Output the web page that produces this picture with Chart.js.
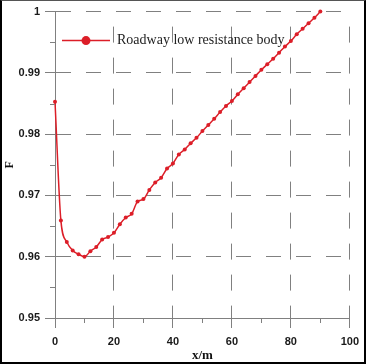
<!DOCTYPE html>
<html>
<head>
<meta charset="utf-8">
<script src="https://cdn.jsdelivr.net/npm/chart.js@4"></script>
<style>
  html, body { margin: 0; padding: 0; background: #fff; }
  #wrap { position: relative; width: 366px; height: 364px; }
  #wrap canvas { position: absolute; left: 0; top: 0; }
  #frame {
    position: absolute; left: 0; top: 0; width: 366px; height: 364px;
    box-sizing: border-box; pointer-events: none;
    border-left: 2px solid #000; border-right: 2px solid #000;
    border-bottom: 2px solid #000; border-top: 1px solid #555;
  }
</style>
</head>
<body>
<div id="wrap">
  <canvas id="chart" width="366" height="364"></canvas>
  <div id="frame"></div>
</div>
<script>
// distance along the roadway (m)
const distance = [0, 2, 4, 6, 8, 10, 12, 14, 16, 18, 20, 22, 24, 26, 28, 30, 32, 34, 36, 38,
  40, 42, 44, 46, 48, 50, 52, 54, 56, 58, 60, 62, 64, 66, 68, 70, 72, 74, 76, 78,
  80, 82, 84, 86, 88, 90];
// F values
const fValues = [0.9853, 0.9659, 0.9624, 0.9610, 0.9604, 0.9600, 0.9609, 0.9616, 0.9628, 0.9632,
  0.9639, 0.9653, 0.9664, 0.9670, 0.9690, 0.9694, 0.9709, 0.9721, 0.9729, 0.9744,
  0.9752, 0.9767, 0.9775, 0.9785, 0.9794, 0.9805, 0.9815, 0.9825, 0.9836, 0.9846,
  0.9854, 0.9865, 0.9875, 0.9885, 0.9895, 0.9905, 0.9914, 0.9923, 0.9933, 0.9943,
  0.9952, 0.9963, 0.9972, 0.9981, 0.9990, 1.0000];
const seriesName = 'Roadway low resistance body';
const xTicks = [0, 20, 40, 60, 80, 100];
const yTicks = [0.95, 0.96, 0.97, 0.98, 0.99, 1];
const xMinor = [10, 30, 50, 70, 90];
const yMinor = [0.955, 0.965, 0.975, 0.985, 0.995];

const red = '#dc1e28';
const gray = '#808080';

// minor ticks + legend drawn on top
const extras = {
  id: 'extras',
  afterDraw(chart) {
    const ctx = chart.ctx;
    const xs = chart.scales.x, ys = chart.scales.y;
    const area = chart.chartArea;
    ctx.save();
    ctx.strokeStyle = gray;
    ctx.lineWidth = 1;
    ctx.beginPath();
    xMinor.forEach(v => {
      const px = Math.round(xs.getPixelForValue(v)) + 0.5;
      ctx.moveTo(px, area.bottom);
      ctx.lineTo(px, area.bottom + 5);
    });
    yMinor.forEach(v => {
      const py = Math.round(ys.getPixelForValue(v)) + 0.5;
      ctx.moveTo(area.left - 5, py);
      ctx.lineTo(area.left, py);
    });
    ctx.stroke();

    // legend
    const ly = area.top + 29;
    const lx = area.left + 7;
    ctx.strokeStyle = red;
    ctx.lineWidth = 1.5;
    ctx.beginPath();
    ctx.moveTo(lx, ly);
    ctx.lineTo(lx + 48, ly);
    ctx.stroke();
    ctx.fillStyle = red;
    ctx.beginPath();
    ctx.arc(lx + 24, ly, 4.5, 0, Math.PI * 2);
    ctx.fill();
    ctx.fillStyle = '#222';
    ctx.font = '14px "Liberation Serif", "Times New Roman", serif';
    ctx.textBaseline = 'middle';
    ctx.textAlign = 'left';
    ctx.fillText(seriesName, lx + 55, ly);
    ctx.restore();
  }
};

new Chart(document.getElementById('chart'), {
  type: 'line',
  data: {
    datasets: [{
      label: seriesName,
      data: distance.map((d, i) => ({ x: d, y: fValues[i] })),
      borderColor: red,
      backgroundColor: red,
      borderWidth: 1.5,
      pointRadius: 2,
      pointBorderWidth: 0,
      pointBackgroundColor: red,
      cubicInterpolationMode: 'monotone',
      clip: false
    }]
  },
  options: {
    responsive: false,
    animation: false,
    layout: { padding: { top: 7, right: 11, left: 0, bottom: 0 } },
    plugins: {
      legend: { display: false },
      tooltip: { enabled: false }
    },
    scales: {
      x: {
        type: 'linear',
        min: 0, max: 100,
        afterBuildTicks: s => { s.ticks = xTicks.map(v => ({ value: v })); },
        afterFit: s => { s.height = 46; },
        grid: { color: gray, lineWidth: 1, tickLength: 10, tickColor: gray },
        border: { display: true, color: gray, width: 1, dash: [16, 15], dashOffset: 16 },
        ticks: {
          padding: 7,
          color: '#1a1a1a',
          font: { family: '"Liberation Sans", Arial, sans-serif', size: 11, weight: 'bold' },
          maxRotation: 0
        },
        title: {
          display: true,
          text: 'x/m',
          color: '#111',
          padding: { top: 0, bottom: 1 },
          font: { family: '"Liberation Serif", "Times New Roman", serif', size: 13, weight: 'bold' }
        }
      },
      y: {
        min: 0.95, max: 1,
        afterBuildTicks: s => { s.ticks = yTicks.map(v => ({ value: v })); },
        afterFit: s => { s.width = 55; },
        grid: { color: gray, lineWidth: 1, tickLength: 10, tickColor: gray },
        border: { display: true, color: gray, width: 1, dash: [15, 15], dashOffset: 0 },
        ticks: {
          padding: 5,
          color: '#1a1a1a',
          font: { family: '"Liberation Sans", Arial, sans-serif', size: 11, weight: 'bold' },
          callback: v => (v === 1 ? '1' : v.toFixed(2))
        },
        title: {
          display: true,
          text: 'F',
          color: '#111',
          padding: { top: 3, bottom: 0 },
          font: { family: '"Liberation Serif", "Times New Roman", serif', size: 12, weight: 'bold' }
        }
      }
    }
  },
  plugins: [extras]
});
</script>
</body>
</html>
